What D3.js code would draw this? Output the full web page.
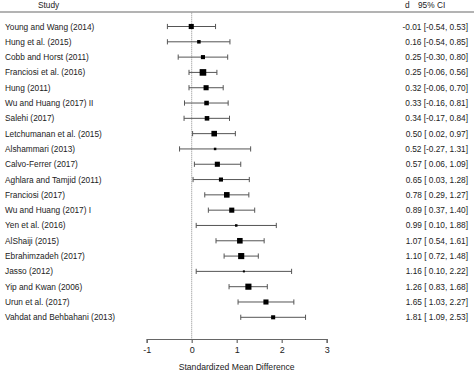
<!DOCTYPE html>
<html><head><meta charset="utf-8">
<script src="https://cdn.jsdelivr.net/npm/d3@7"></script>
<style>
html,body{margin:0;padding:0;background:#fff;}
svg{display:block;font-family:"Liberation Sans",Arial,sans-serif;}
</style></head>
<body>
<svg id="chart" width="474" height="371"></svg>
<script>
const studies = ["Young and Wang (2014)","Hung et al. (2015)","Cobb and Horst (2011)","Franciosi et al. (2016)","Hung (2011)","Wu and Huang (2017) II","Salehi (2017)","Letchumanan et al. (2015)","Alshammari (2013)","Calvo-Ferrer (2017)","Aghlara and Tamjid (2011)","Franciosi (2017)","Wu and Huang (2017) I","Yen et al. (2016)","AlShaiji (2015)","Ebrahimzadeh (2017)","Jasso (2012)","Yip and Kwan (2006)","Urun et al. (2017)","Vahdat and Behbahani (2013)"];
const effect = [-0.01,0.16,0.25,0.25,0.32,0.33,0.34,0.50,0.52,0.57,0.65,0.78,0.89,0.99,1.07,1.10,1.16,1.26,1.65,1.81];
const lower = [-0.54,-0.54,-0.30,-0.06,-0.06,-0.16,-0.17,0.02,-0.27,0.06,0.03,0.29,0.37,0.10,0.54,0.72,0.10,0.83,1.03,1.09];
const upper = [0.53,0.85,0.80,0.56,0.70,0.81,0.84,0.97,1.31,1.09,1.28,1.27,1.40,1.88,1.61,1.48,2.22,1.68,2.27,2.53];
const weights = [25,12,16,42,25,20,20,30,6,25,16,30,25,6,30,36,4,36,25,16];
const ciLabels = ["-0.01 [-0.54, 0.53]","0.16 [-0.54, 0.85]","0.25 [-0.30, 0.80]","0.25 [-0.06, 0.56]","0.32 [-0.06, 0.70]","0.33 [-0.16, 0.81]","0.34 [-0.17, 0.84]","0.50 [ 0.02, 0.97]","0.52 [-0.27, 1.31]","0.57 [ 0.06, 1.09]","0.65 [ 0.03, 1.28]","0.78 [ 0.29, 1.27]","0.89 [ 0.37, 1.40]","0.99 [ 0.10, 1.88]","1.07 [ 0.54, 1.61]","1.10 [ 0.72, 1.48]","1.16 [ 0.10, 2.22]","1.26 [ 0.83, 1.68]","1.65 [ 1.03, 2.27]","1.81 [ 1.09, 2.53]"];
const xTicks = [-1,0,1,2,3];

const data = studies.map((s,i)=>({study:s,d:effect[i],lo:lower[i],hi:upper[i],w:weights[i],label:ciLabels[i]}));

const svg = d3.select("#chart");
const x = d3.scaleLinear().domain([-1,3]).range([146.7,326.7]);
const y = d3.scalePoint().domain(studies).range([26.5,317.3]);
const size = d3.scaleSqrt().domain([0,d3.max(weights)]).range([0,6.6]);
const fs = "8.3px";
const txt = "#222";

// header
svg.append("text").attr("x",38).attr("y",8).attr("font-size",fs).attr("fill",txt).text("Study");
svg.append("text").attr("x",405).attr("y",8).attr("font-size",fs).attr("fill",txt).text("d");
svg.append("text").attr("x",418).attr("y",8).attr("font-size",fs).attr("fill",txt).text("95% CI");
svg.append("line").attr("x1",0).attr("x2",474).attr("y1",12).attr("y2",12)
  .attr("stroke","#9a9a9a").attr("stroke-width",1.4);

// reference line at 0
svg.append("line").attr("x1",x(0)).attr("x2",x(0)).attr("y1",12.7).attr("y2",339)
  .attr("stroke","#8a8a8a").attr("stroke-width",1).attr("stroke-dasharray","1,1");

// axis
const axis = d3.axisBottom(x).tickValues(xTicks).tickSize(4).tickPadding(4).tickFormat(d3.format("d"));
const gAxis = svg.append("g").attr("transform","translate(0,339)").call(axis);
gAxis.select(".domain").attr("stroke","#666").attr("stroke-width",1.2);
gAxis.selectAll(".tick line").attr("stroke","#666").attr("stroke-width",1.2);
gAxis.selectAll(".tick text").attr("font-size","9px").attr("fill",txt)
  .attr("font-family","'Liberation Sans',Arial,sans-serif").text(d=>d<0?"-"+Math.abs(d):d);
svg.append("text").attr("x",x(1)).attr("y",370).attr("text-anchor","middle")
  .attr("font-size","8.6px").attr("fill",txt).text("Standardized Mean Difference");

// rows
const rows = svg.append("g").selectAll("g").data(data).join("g");
rows.append("text").attr("x",5).attr("y",d=>y(d.study)+3).attr("font-size",fs).attr("fill",txt).text(d=>d.study);
rows.append("text").attr("x",468).attr("y",d=>y(d.study)+3).attr("text-anchor","end")
  .attr("font-size",fs).attr("fill",txt).attr("xml:space","preserve").style("white-space","pre").text(d=>d.label);
rows.append("line").attr("x1",d=>x(d.lo)).attr("x2",d=>x(d.hi)).attr("y1",d=>y(d.study)).attr("y2",d=>y(d.study))
  .attr("stroke","#555").attr("stroke-width",1);
rows.append("line").attr("x1",d=>x(d.lo)).attr("x2",d=>x(d.lo)).attr("y1",d=>y(d.study)-2.6).attr("y2",d=>y(d.study)+2.6)
  .attr("stroke","#555").attr("stroke-width",1);
rows.append("line").attr("x1",d=>x(d.hi)).attr("x2",d=>x(d.hi)).attr("y1",d=>y(d.study)-2.6).attr("y2",d=>y(d.study)+2.6)
  .attr("stroke","#555").attr("stroke-width",1);
rows.append("rect").attr("x",d=>x(d.d)-size(d.w)/2).attr("y",d=>y(d.study)-size(d.w)/2)
  .attr("width",d=>size(d.w)).attr("height",d=>size(d.w)).attr("fill","#000");
</script>
</body></html>
